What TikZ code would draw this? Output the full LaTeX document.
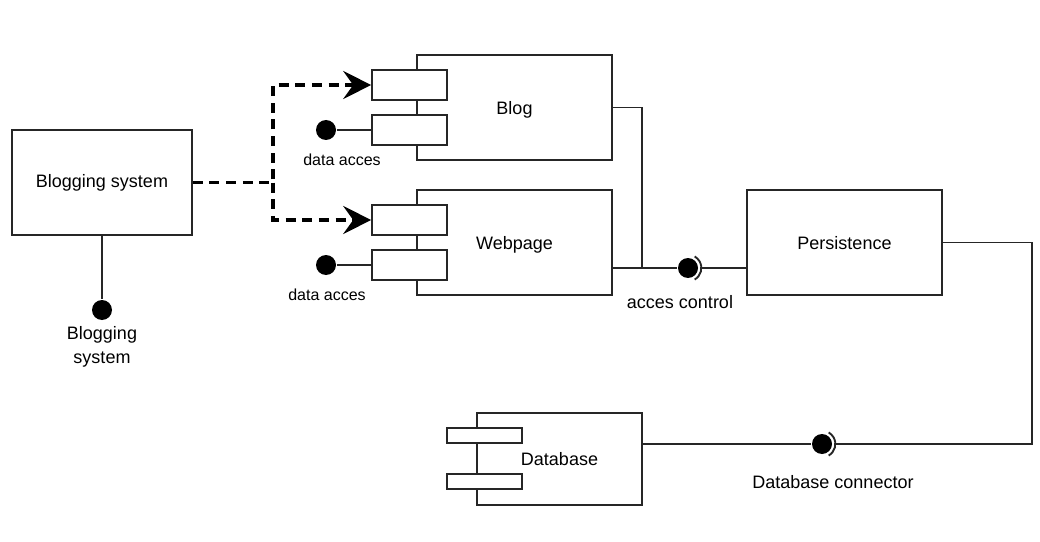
\documentclass[tikz,border=0pt]{standalone}
\usepackage{fontspec}
\setmainfont{Liberation Sans}
\usetikzlibrary{arrows.meta}
\begin{document}
\begin{tikzpicture}[x=0.75pt,y=-0.75pt,line width=1.2pt,
  box/.style={draw=black!85,fill=white,inner sep=0pt,line width=1.2pt,font=\fontsize{13.5}{16}\selectfont},
  port/.style={draw=black!85,fill=white,inner sep=0pt,line width=1.2pt,minimum width=56.25pt,minimum height=22.5pt},
  smallport/.style={draw=black!85,fill=white,inner sep=0pt,line width=1.2pt,minimum width=56.25pt,minimum height=11.25pt},
  ball/.style={circle,fill=black,inner sep=0pt,minimum size=15pt},
  lbl/.style={font=\fontsize{13.5}{17.5}\selectfont,align=center,inner sep=0pt},
  slbl/.style={font=\fontsize{12}{14}\selectfont,inner sep=0pt},
  dep/.style={line width=2.4pt,dash pattern=on 7.5pt off 5pt,-{Stealth[length=21pt,width=21pt,inset=7.5pt]}},
  wire/.style={draw=black!85,line width=1.2pt}]
\useasboundingbox (0,0) rectangle (1040,542);

% Blogging system
\node[box,minimum width=135pt,minimum height=78.75pt] (bs) at (102,182.5) {Blogging system};
\node[ball] (b1) at (102,310) {};
\node[lbl] (l1) at (102,347) {Blogging\\system};
\draw[wire] (bs.south) -- (b1);

% Blog
\node[box,minimum width=146.25pt,minimum height=78.75pt,text depth=0pt] (blog) at (514.5,107.5) {Blog};
\node[port] (bp1) at (409.5,85) {};
\node[port] (bp2) at (409.5,130) {};
\node[ball] (b2) at (326,130) {};
\draw[wire] (b2) -- (bp2.west);
\node[slbl] (l2) at (342,160) {data acces};

% Webpage
\node[box,minimum width=146.25pt,minimum height=78.75pt,text depth=0pt] (web) at (514.5,242.5) {Webpage};
\node[port] (wp1) at (409.5,220) {};
\node[port] (wp2) at (409.5,265) {};
\node[ball] (b3) at (326,265) {};
\draw[wire] (b3) -- (wp2.west);
\node[slbl] (l3) at (327,295) {data acces};

% dashed dependencies
\coordinate (split) at (273,182.5);
\draw[dep] (bs.east) -- (split) |- (bp1.west);
\draw[dep] (split) |- (wp1.west);

% Persistence
\node[box,minimum width=146.25pt,minimum height=78.75pt,text depth=0pt] (pers) at (844.5,242.5) {Persistence};

% acces control
\node[ball] (b4) at (688,268) {};
\coordinate (j1) at (642,268);
\coordinate (s4) at (701,268);
\draw[wire] (blog.east) -| (j1);
\draw[wire] (web.east |- b4) -- (b4);
\draw[wire,line width=1.4pt] ([shift={(-60:10pt)}]b4.center) arc[start angle=-60,end angle=60,radius=10pt];
\draw[wire] (s4) -- (pers.west |- b4);
\node[lbl] (l4) at (680,302) {acces control};

% Database
\node[box,minimum width=123.75pt,minimum height=69pt,text depth=0pt] (db) at (559.5,459) {Database};
\node[smallport] (dp1) at (484.5,435.5) {};
\node[smallport] (dp2) at (484.5,481.5) {};

% Database connector
\node[ball] (b5) at (822,444) {};
\coordinate (s5) at (835,444);
\coordinate (c1) at (1032,242.5);
\draw[wire] (pers.east) -- (c1) |- (s5);
\draw[wire,line width=1.4pt] ([shift={(-60:10pt)}]b5.center) arc[start angle=-60,end angle=60,radius=10pt];
\draw[wire] (db.east |- b5) -- (b5);
\node[lbl] (l5) at (833,482) {Database connector};
\end{tikzpicture}
\end{document}
